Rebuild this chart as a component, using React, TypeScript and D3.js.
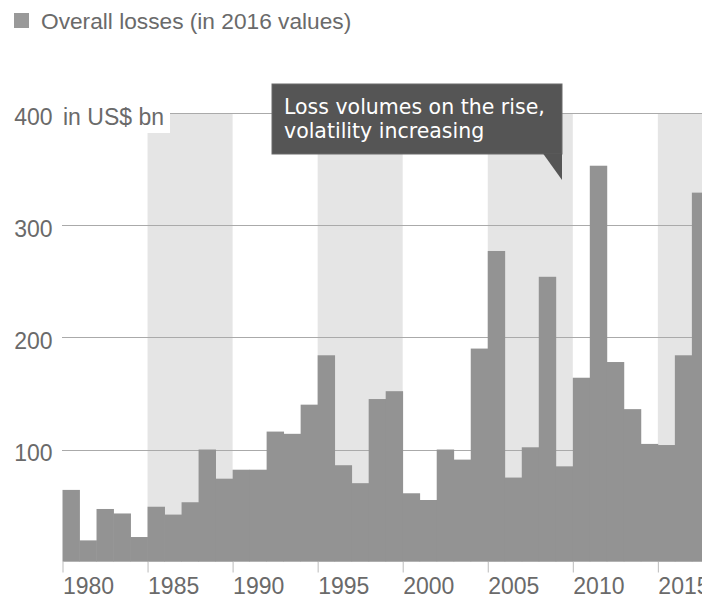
import * as d3 from "d3";

const YEARS = [
  1980, 1981, 1982, 1983, 1984, 1985, 1986, 1987, 1988, 1989, 1990, 1991, 1992, 1993, 1994, 1995,
  1996, 1997, 1998, 1999, 2000, 2001, 2002, 2003, 2004, 2005, 2006, 2007, 2008, 2009, 2010, 2011,
  2012, 2013, 2014, 2015, 2016, 2017,
];
// overall losses, US$ bn in 2016 values
const LOSSES = [
  64, 19, 47, 43, 22, 49, 42, 53, 100, 74, 82, 82, 116, 114, 140, 184, 86, 70, 145, 152, 61, 55,
  100, 91, 190, 277, 75, 102, 254, 85, 164, 353, 178, 136, 105, 104, 184, 329,
];
const X_TICKS = [1980, 1985, 1990, 1995, 2000, 2005, 2010, 2015];
const Y_TICKS = [100, 200, 300, 400];
// shaded half-decades
const BAND_STARTS = [1985, 1995, 2005, 2015];

const W = 702;
const H = 599;
const LABEL_FONT = "'Liberation Sans', Arial, sans-serif";
const NOTE_FONT = "'DejaVu Sans', Verdana, sans-serif";
const TEXT = "#6a6a6a";

export default function App() {
  const step = 17.01;
  const x = d3
    .scaleBand<number>()
    .domain(YEARS)
    .range([62.5, 62.5 + YEARS.length * step])
    .padding(0);
  const y = d3.scaleLinear().domain([0, 400]).range([561.7, 113]);
  const bw = x.bandwidth();

  return (
    <svg
      width={W}
      height={H}
      style={{ position: "absolute", left: 0, top: 0, background: "#fff" }}
    >
      {/* legend */}
      <rect x={14} y={13} width={15} height={15} fill="#999" />
      <text x={41} y={28.5} fontFamily={LABEL_FONT} fontSize={22.7} fill={TEXT}>
        Overall losses (in 2016 values)
      </text>

      {/* background bands */}
      {BAND_STARTS.map((s) => (
        <rect
          key={s}
          x={x(s) ?? 0}
          y={y(400)}
          width={bw * 5}
          height={y(0) - y(400)}
          fill="#e5e5e5"
        />
      ))}

      {/* grid */}
      {Y_TICKS.map((t) => (
        <line
          key={t}
          x1={62}
          x2={W}
          y1={Math.round(y(t)) + 0.5}
          y2={Math.round(y(t)) + 0.5}
          stroke="#aaa"
          strokeWidth={1}
        />
      ))}

      {/* bars */}
      {YEARS.map((yr, i) => (
        <rect
          key={yr}
          x={x(yr) ?? 0}
          y={y(LOSSES[i])}
          width={bw + 0.4}
          height={y(0) - y(LOSSES[i])}
          fill="#939393"
        />
      ))}

      {/* x ticks */}
      {X_TICKS.map((t) => (
        <g key={t}>
          <line
            x1={(x(t) ?? 0) + 0.5}
            x2={(x(t) ?? 0) + 0.5}
            y1={y(0)}
            y2={572.5}
            stroke="#bbb"
          />
          <text
            x={(x(t) ?? 0) + 0.5}
            y={593.5}
            fontFamily={LABEL_FONT}
            fontSize={23}
            fill={TEXT}
          >
            {t}
          </text>
        </g>
      ))}

      {/* y labels */}
      <rect x={0} y={92} width={170} height={41} fill="#fff" />
      {Y_TICKS.map((t) => (
        <text
          key={t}
          x={52.5}
          y={y(t) + 11.7}
          textAnchor="end"
          fontFamily={LABEL_FONT}
          fontSize={23}
          fill={TEXT}
        >
          {t}
        </text>
      ))}
      <text x={63} y={y(400) + 11.7} fontFamily={LABEL_FONT} fontSize={23} fill={TEXT}>
        in US$ bn
      </text>

      {/* annotation */}
      <rect x={272} y={84} width={290} height={70} fill="#555" stroke="#6a6a6a" strokeWidth={1} />
      <path d="M543,153.5 L562,153.5 L562,180 Z" fill="#555" />
      <text fontFamily={NOTE_FONT} fontSize={20.5} fill="#fff">
        <tspan x={284} y={114}>
          Loss volumes on the rise,
        </tspan>
        <tspan x={284} y={138}>
          volatility increasing
        </tspan>
      </text>
    </svg>
  );
}
